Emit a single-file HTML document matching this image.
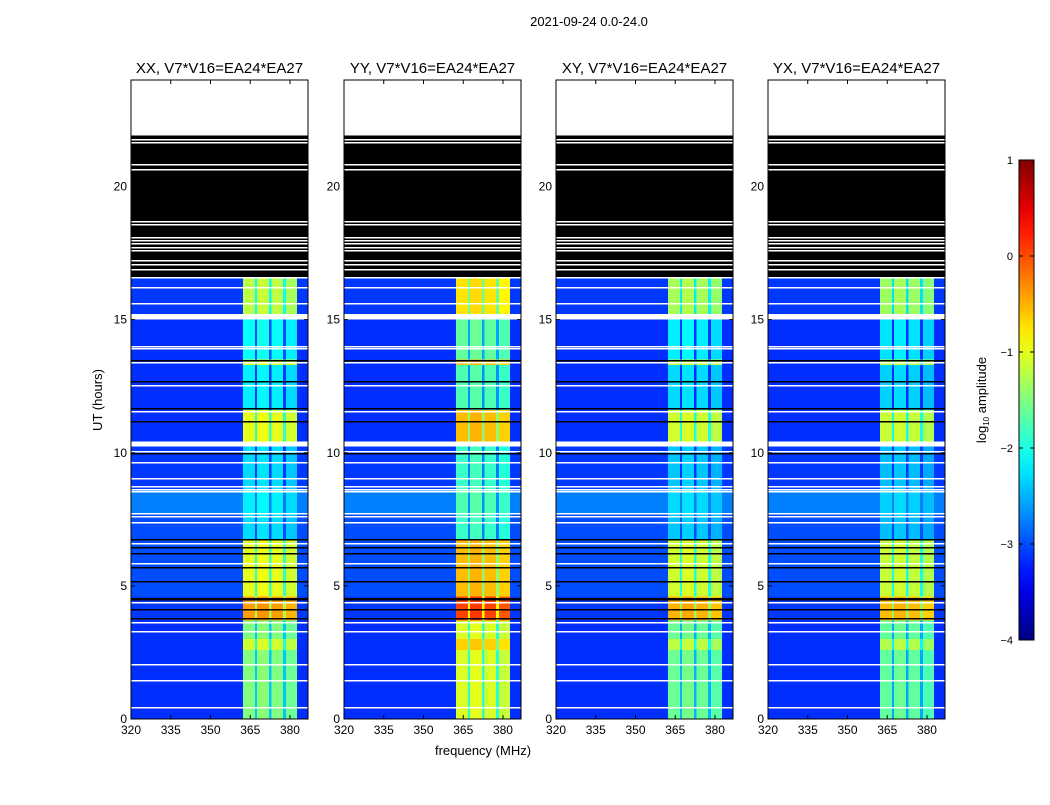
<!DOCTYPE html>
<html><head><meta charset="utf-8"><style>
body{margin:0;background:#fff;}
svg text{font-family:"Liberation Sans",sans-serif;fill:#000;}
</style></head><body>
<svg id="fig" width="1050" height="800" viewBox="0 0 1050 800" xmlns="http://www.w3.org/2000/svg">
<text x="589" y="26" font-size="13" text-anchor="middle">2021-09-24 0.0-24.0</text>
<text transform="translate(102,400) rotate(-90)" font-size="13" text-anchor="middle">UT (hours)</text>
<text x="483" y="755" font-size="13" text-anchor="middle">frequency (MHz)</text>
<g id="panels"></g>
<g id="cbar"></g>
</svg>
<script>
// ---- data ----
const panelTitles = ["XX, V7*V16=EA24*EA27","YY, V7*V16=EA24*EA27","XY, V7*V16=EA24*EA27","YX, V7*V16=EA24*EA27"];
const panelOffset = [0, 0.45, -0.1, -0.15]; // log amp offset of RFI per polarization
// time segments (hours): start, end, RFI column level, background level
const segStart = [0, 2.6, 3.0, 3.7, 4.6, 6.7, 7.7, 8.6, 10.4, 11.6, 13.3, 13.5, 15.2];
const segEnd   = [2.6, 3.0, 3.7, 4.6, 6.7, 7.7, 8.6, 10.4, 11.6, 13.3, 13.5, 15.2, 16.55];
const segRfi   = [-1.5, -1.1, -1.5, -0.4, -1.0, -2.3, -2.2, -2.3, -1.0, -2.2, -1.0, -2.1, -1.2];
const segBg    = [-3.15, -3.15, -3.15, -3.1, -3.0, -3.0, -2.75, -3.1, -3.15, -3.15, -3.15, -3.15, -3.1];
// RFI channel bands (MHz)
const chanStart = [362.3, 367.5, 373.0, 378.5];
const chanEnd   = [366.8, 372.0, 377.4, 382.6];
const chanGain  = [0.0, 0.05, 0.0, -0.1];
const rfiRegion = [362.3, 382.6];
// flagged (black) bands in hours
const blackStart = [16.55, 20.91];
const blackEnd   = [21.28, 21.92];
// thin white (missing) lines, hours
const whiteLines = [21.77,21.66,20.83,20.65,18.69,18.58,18.09,17.98,17.87,17.72,17.60,17.23,17.08,16.89,16.59,
  16.22,15.64,14.0,13.93,13.4,12.54,11.56,10.3,10.38,10.08,9.65,9.05,8.75,8.65,8.56,7.73,7.62,7.39,6.6,5.86,5.2,4.39,3.64,3.3,2.06,1.46,0.45];
const whiteBandStart = [15.0, 10.28];
const whiteBandEnd   = [15.22, 10.42];
const blackLines = [13.47,12.69,11.67,11.18,9.98,6.76,6.46,6.23,5.7,5.2,4.55,4.5,4.13,3.8];
const xTicks = [320,335,350,365,380];
const yTicks = [0,5,10,15,20];
const cbTicks = [1,0,-1,-2,-3,-4];
const cbMin=-4, cbMax=1;

// ---- layout ----
const NS="http://www.w3.org/2000/svg";
const panelX=[131,344,556,768], PW=177, PY0=80, PY1=719;
const fMin=320, fMax=386.8, tMin=0, tMax=24;
function jet(v){
  let t=(v-cbMin)/(cbMax-cbMin); t=Math.max(0,Math.min(1,t));
  const c=x=>Math.max(0,Math.min(1,x));
  const r=c(1.5-Math.abs(4*t-3)), g=c(1.5-Math.abs(4*t-2)), b=c(1.5-Math.abs(4*t-1));
  return `rgb(${Math.round(r*255)},${Math.round(g*255)},${Math.round(b*255)})`;
}
function el(tag,attrs,parent){const e=document.createElementNS(NS,tag);for(const k in attrs)e.setAttribute(k,attrs[k]);parent.appendChild(e);return e;}
const root=document.getElementById('panels');
panelTitles.forEach((title,p)=>{
  const x0=panelX[p];
  const xs=f=>x0+(f-fMin)/(fMax-fMin)*PW;
  const ys=h=>PY1-(h-tMin)/(tMax-tMin)*(PY1-PY0);
  const g=el('g',{'shape-rendering':'crispEdges'},root);
  
  
  el('rect',{x:x0,y:PY0,width:PW,height:PY1-PY0,fill:'#fff'},g);
  for(let i=0;i<segStart.length;i++){
    const y=ys(segEnd[i]), h=ys(segStart[i])-y;
    const r=el('rect',{x:x0,y:y,width:PW,height:h,fill:jet(segBg[i])},g);
    
    
    const lvl=segRfi[i]+panelOffset[p];
    el('rect',{x:xs(rfiRegion[0]),y:y,width:xs(rfiRegion[1])-xs(rfiRegion[0]),height:h,fill:jet(Math.max(segBg[i],lvl-0.9))},g);
    for(let c=0;c<chanStart.length;c++){
      const cr=el('rect',{x:xs(chanStart[c]),y:y,width:xs(chanEnd[c])-xs(chanStart[c]),height:h,fill:jet(lvl+chanGain[c])},g);
      
      
    }
  }
  for(let i=0;i<blackStart.length;i++){
    el('rect',{x:x0,y:ys(blackEnd[i]),width:PW,height:ys(blackStart[i])-ys(blackEnd[i]),fill:'#000'},g);
  }
  for(let i=0;i<whiteBandStart.length;i++){
    el('rect',{x:x0,y:ys(whiteBandEnd[i]),width:PW,height:ys(whiteBandStart[i])-ys(whiteBandEnd[i]),fill:'#fff'},g);
  }
  whiteLines.forEach(h=>el('rect',{x:x0,y:Math.round(ys(h)),width:PW,height:1.5,fill:'#fff'},g));
  blackLines.forEach(h=>el('rect',{x:x0,y:Math.round(ys(h)),width:PW,height:1.5,fill:'#000'},g));
  // axes
  const ax=el('rect',{x:x0,y:PY0,width:PW,height:PY1-PY0,fill:'none',stroke:'#000','stroke-width':1},root);
  
  
  xTicks.forEach(f=>{
    const x=xs(f);
    el('line',{x1:x,x2:x,y1:PY1,y2:PY1-4,stroke:'#000'},root);
    el('line',{x1:x,x2:x,y1:PY0,y2:PY0+4,stroke:'#000'},root);
    const t=el('text',{x:x,y:PY1+15,'font-size':12,'text-anchor':'middle'},root);
    t.textContent=f;
    
    
  });
  yTicks.forEach(h=>{
    const y=ys(h);
    el('line',{x1:x0,x2:x0+4,y1:y,y2:y,stroke:'#000'},root);
    el('line',{x1:x0+PW,x2:x0+PW-4,y1:y,y2:y,stroke:'#000'},root);
    const t=el('text',{x:x0-4,y:y+4,'font-size':12,'text-anchor':'end'},root);
    t.textContent=h;
    
    
  });
  const tt=el('text',{x:x0+PW/2,y:73,'font-size':15,'text-anchor':'middle'},root);
  tt.textContent=title;
  
  
});
// colorbar
const cb=document.getElementById('cbar');
const CX=1019,CW=15,CY0=160,CY1=640;
const defs=el('defs',{},cb);
const grad=el('linearGradient',{id:'jetg',x1:0,y1:1,x2:0,y2:0},defs);
for(let i=0;i<=20;i++){el('stop',{offset:i/20,'stop-color':jet(cbMin+(cbMax-cbMin)*i/20)},grad);}
const bar=el('rect',{x:CX,y:CY0,width:CW,height:CY1-CY0,fill:'url(#jetg)',stroke:'#000'},cb);


cbTicks.forEach(v=>{
  const y=CY1-(v-cbMin)/(cbMax-cbMin)*(CY1-CY0);
  el('line',{x1:CX,x2:CX+4,y1:y,y2:y,stroke:'#000'},cb);
  el('line',{x1:CX+CW,x2:CX+CW-4,y1:y,y2:y,stroke:'#000'},cb);
  const t=el('text',{x:1013,y:y+4,'font-size':11,'text-anchor':'end'},cb);
  t.textContent=v<0?'\u2212'+(-v):String(v);
  
  
});
const cl=el('text',{transform:'translate(986,400) rotate(-90)','font-size':13,'text-anchor':'middle'},cb);
cl.innerHTML='log<tspan font-size="8" dy="3">10</tspan><tspan dy="-3"> amplitude</tspan>';


</script>
</body></html>
